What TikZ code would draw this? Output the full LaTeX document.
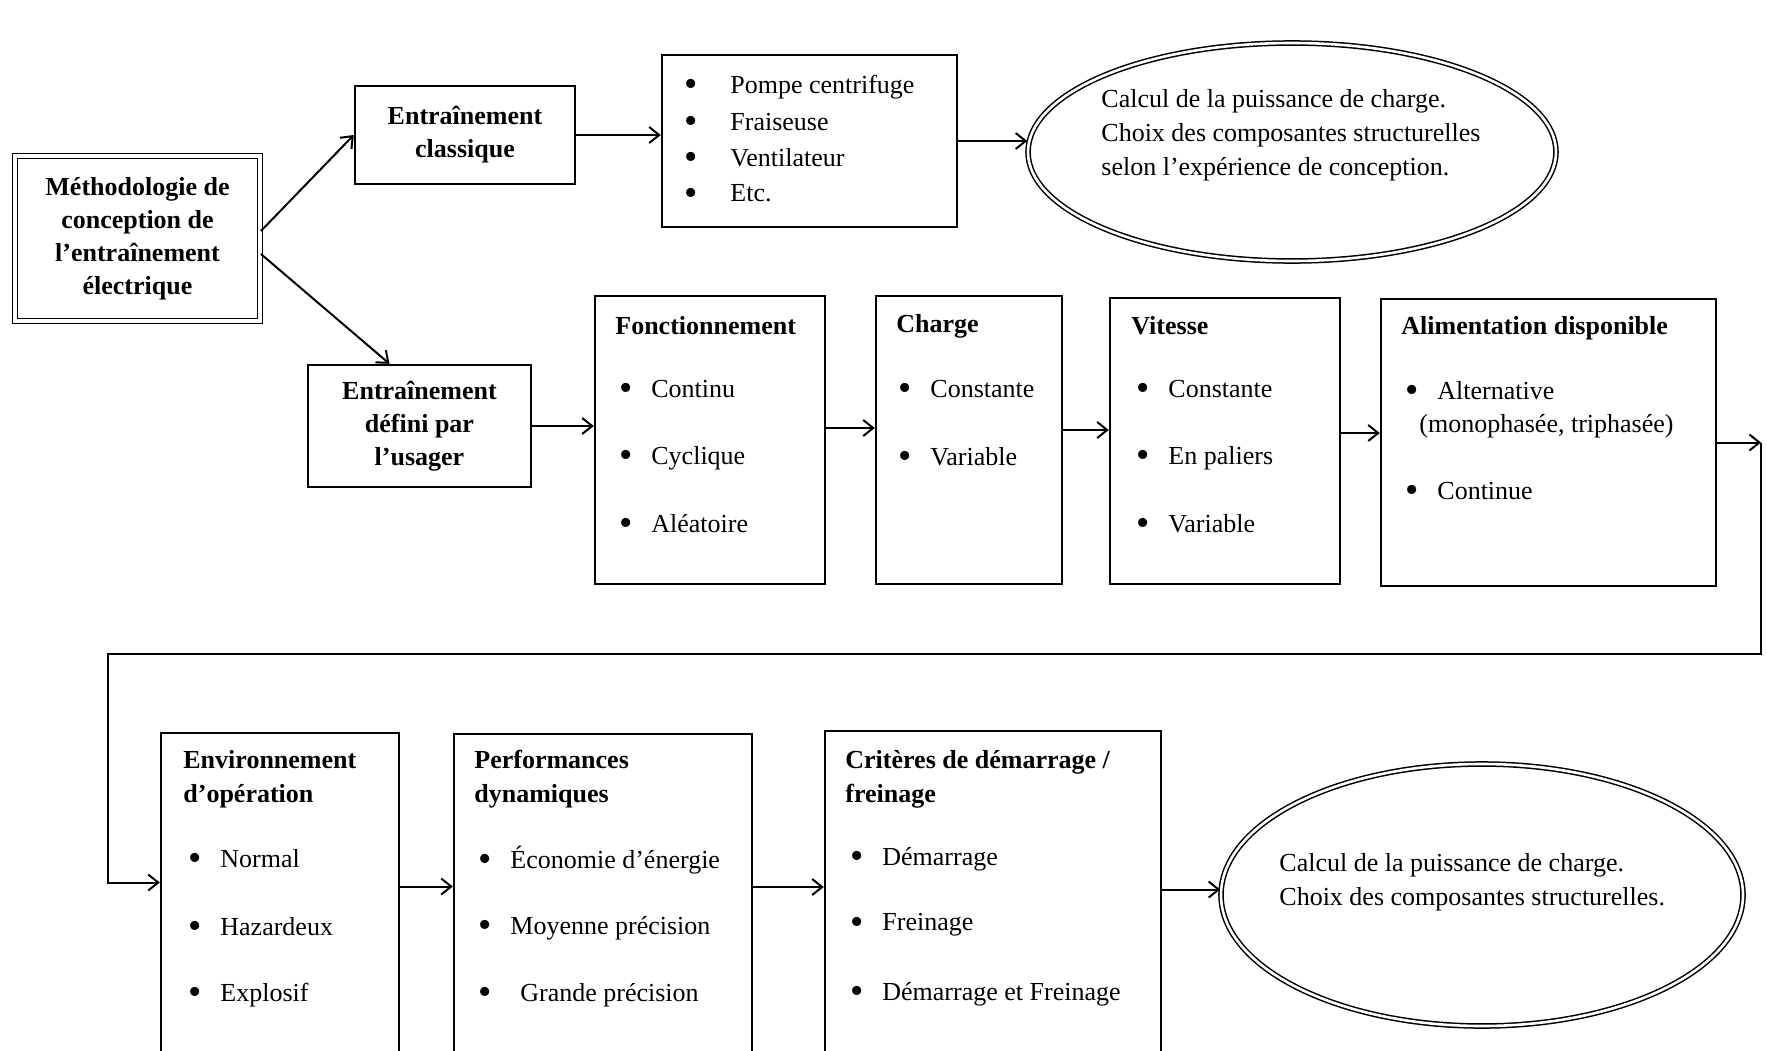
\documentclass[tikz,border=0pt]{standalone}
\usepackage{fontspec}
\setmainfont{Liberation Serif}
\usetikzlibrary{positioning, arrows.meta, shapes.geometric}

% bullet with a fixed gap before the item text
\newcommand{\puce}[1][16pt]{\makebox[#1][l]{\raisebox{-1.6pt}{\fontsize{19}{19}\selectfont\textbullet}}}

\begin{document}
\begin{tikzpicture}[
        x=0.5pt, y=-0.5pt,
        % plain framed box
        box/.style={
            rectangle, draw, line width=1.2pt, inner sep=0pt
        },
        % boxes with centred bold title
        titlebox/.style={
            box, align=center,
            font=\fontsize{13}{16.5}\selectfont\bfseries
        },
        % double framed start box
        mainbox/.style={
            titlebox, double, double distance=1.6pt, line width=0.9pt
        },
        % result ellipses
        result/.style={
            ellipse, draw, double, double distance=1.3pt, line width=0.75pt,
            inner sep=0pt
        },
        % texts inside the boxes
        txt/.style={inner sep=0pt, anchor=west, align=left,
            font=\fontsize{13}{17}\selectfont},
        head/.style={txt, font=\fontsize{13}{17}\selectfont\bfseries},
        % connectors
        arr/.style={
            draw, line width=1pt, -{Straight Barb[length=5pt, width=8pt]}
        }
    ]
        \clip (0,0) rectangle (1767,1050);

        % Start and the two branches
        \node[mainbox, minimum width=122.5pt, minimum height=82.5pt] (main) at (137.5,238.5)
            {Méthodologie de\\ conception de\\ l’entraînement\\ électrique};
        \node[titlebox, minimum width=110pt, minimum height=49pt] (classique) at (465,135)
            {Entraînement\\ classique};
        \node[titlebox, minimum width=111.5pt, minimum height=61pt] (defini) at (419.5,426)
            {Entraînement\\ défini par\\ l’usager};

        % Classic drive
        \node[box, minimum width=147.5pt, minimum height=86pt] (exemples) at (809.5,141) {};
        \node[txt] (ex-1) at (684,87) {\puce[23pt]Pompe centrifuge};
        \node[txt] (ex-2) at (684,123) {\puce[23pt]Fraiseuse};
        \node[txt] (ex-3) at (684,159) {\puce[23pt]Ventilateur};
        \node[txt] (ex-4) at (684,195) {\puce[23pt]Etc.};

        \node[result, minimum width=264pt, minimum height=109pt] (calcul1) at (1292,152) {};
        \node[txt] (calcul1-t) at (1101,135)
            {Calcul de la puissance de charge.\\ Choix des composantes structurelles\\ selon l’expérience de conception.};

        % User defined drive, first row
        \node[box, minimum width=115pt, minimum height=144pt] (fonct) at (710,440) {};
        \node[head] (fonct-h) at (615,326) {Fonctionnement};
        \node[txt] (fonct-1) at (619,390) {\puce Continu};
        \node[txt] (fonct-2) at (619,458) {\puce Cyclique};
        \node[txt] (fonct-3) at (619,525) {\puce Aléatoire};

        \node[box, minimum width=93pt, minimum height=144pt] (charge) at (969,440) {};
        \node[head] (charge-h) at (896,326) {Charge};
        \node[txt] (charge-1) at (898,390) {\puce Constante};
        \node[txt] (charge-2) at (898,458) {\puce Variable};

        \node[box, minimum width=115pt, minimum height=143pt] (vitesse) at (1225,441) {};
        \node[head] (vitesse-h) at (1131,326) {Vitesse};
        \node[txt] (vitesse-1) at (1136,390) {\puce Constante};
        \node[txt] (vitesse-2) at (1136,458) {\puce En paliers};
        \node[txt] (vitesse-3) at (1136,525) {\puce Variable};

        \node[box, minimum width=167.5pt, minimum height=143.5pt] (alim) at (1548.5,442.5) {};
        \node[head] (alim-h) at (1401,328) {Alimentation disponible};
        \node[txt] (alim-1) at (1405,392) {\puce Alternative};
        \node[txt] (alim-1b) at (1419,426) {(monophasée, triphasée)};
        \node[txt] (alim-2) at (1405,492) {\puce Continue};

        % Second row
        \node[box, minimum width=119pt, minimum height=173.5pt] (envir) at (280,906.5) {};
        \node[head] (envir-h) at (183,779) {Environnement\\ d’opération};
        \node[txt] (envir-1) at (188,860) {\puce Normal};
        \node[txt] (envir-2) at (188,928) {\puce Hazardeux};
        \node[txt] (envir-3) at (188,995) {\puce Explosif};

        \node[box, minimum width=149pt, minimum height=173pt] (perf) at (603,907) {};
        \node[head] (perf-h) at (474,779) {Performances\\ dynamiques};
        \node[txt] (perf-1) at (478,860) {\puce Économie d’énergie};
        \node[txt] (perf-2) at (478,928) {\puce Moyenne précision};
        \node[txt] (perf-3) at (478,995) {\puce\hspace{5pt}Grande précision};

        \node[box, minimum width=168pt, minimum height=174.5pt] (crit) at (993,905.5) {};
        \node[head] (crit-h) at (845,779) {Critères de démarrage /\\ freinage};
        \node[txt] (crit-1) at (850,859) {\puce Démarrage};
        \node[txt] (crit-2) at (850,925) {\puce Freinage};
        \node[txt] (crit-3) at (850,994) {\puce Démarrage et Freinage};

        \node[result, minimum width=261pt, minimum height=131pt] (calcul2) at (1482,895) {};
        \node[txt] (calcul2-t) at (1279,882)
            {Calcul de la puissance de charge.\\ Choix des composantes structurelles.};

        % Return path from the first row to the second row
        \coordinate (retour-h) at (1761,442.5);
        \coordinate (retour-d) at (1761,654);
        \coordinate (retour-g) at (108,654);

        % Connections
        \draw[arr] ([yshift=3.75pt]main.east) -- (classique.west);
        \draw[arr] ([yshift=-7.75pt]main.east) -- ([xshift=-15pt]defini.north);
        \draw[arr] (classique.east) -- (classique.east -| exemples.west);
        \draw[arr] (exemples.east) -- (exemples.east -| calcul1.west);

        \draw[arr] (defini.east) -- (defini.east -| fonct.west);
        \draw[arr] ([yshift=6pt]fonct.east) -- ([yshift=6pt]charge.west);
        \draw[arr] ([yshift=5pt]charge.east) -- ([yshift=5pt]charge.east -| vitesse.west);
        \draw[arr] ([yshift=4pt]vitesse.east) -- ([yshift=4pt]vitesse.east -| alim.west);

        \draw[arr] (alim.east) -- (retour-h);
        \draw[arr] (retour-h) -- (retour-d) -- (retour-g) |- ([yshift=12pt]envir.west);

        \draw[arr] ([yshift=10pt]envir.east) -- ([yshift=10pt]envir.east -| perf.west);
        \draw[arr] ([yshift=10pt]perf.east) -- ([yshift=10pt]perf.east -| crit.west);
        \draw[arr] ([yshift=8pt]crit.east) -- ([yshift=8pt]crit.east -| calcul2.west);

    \end{tikzpicture}
\end{document}
